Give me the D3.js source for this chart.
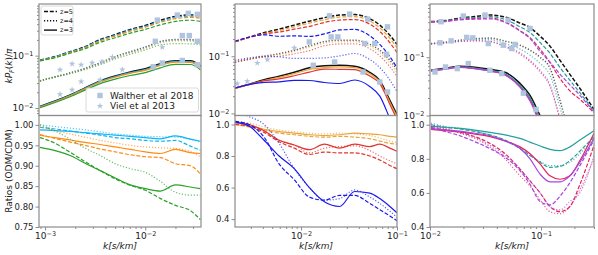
<!DOCTYPE html>
<html>
<head>
<meta charset="utf-8">
<script src="https://cdn.jsdelivr.net/npm/d3@7"></script>
<style>
  body { margin: 0; background: #fff; }
  svg { font-family: "DejaVu Sans", sans-serif; }
</style>
</head>
<body>
<svg id="chart" width="598" height="255"></svg>
<script>
// ---- panel 1 (k grid, CDM flux power, ODM/CDM ratios) ----
var p1_k = [0.00089, 0.00126, 0.00178, 0.00251, 0.00355, 0.00501, 0.00708, 0.0100, 0.0141, 0.0200, 0.0282, 0.0355];
var p1_cdm_z5 = [0.082, 0.096, 0.119, 0.149, 0.203, 0.253, 0.316, 0.378, 0.471, 0.562, 0.601, 0.587];
var p1_cdm_z4 = [0.033, 0.0395, 0.047, 0.0575, 0.073, 0.096, 0.119, 0.146, 0.186, 0.203, 0.203, 0.194];
var p1_cdm_z3 = [0.0107, 0.0136, 0.0178, 0.0243, 0.033, 0.041, 0.049, 0.0562, 0.070, 0.080, 0.080, 0.064];
var p1_blue_z5 = [0.994, 0.99, 0.985, 0.98, 0.975, 0.969, 0.966, 0.962, 0.96, 0.962, 0.948, 0.938];
var p1_blue_z4 = [1.0, 0.996, 0.992, 0.988, 0.983, 0.978, 0.975, 0.972, 0.971, 0.97, 0.965, 0.957];
var p1_blue_z3 = [0.988, 0.986, 0.984, 0.981, 0.978, 0.975, 0.972, 0.969, 0.966, 0.973, 0.965, 0.96];
var p1_orange_z5 = [0.976, 0.967, 0.958, 0.95, 0.941, 0.934, 0.927, 0.922, 0.92, 0.905, 0.9, 0.88];
var p1_orange_z4 = [0.995, 0.986, 0.978, 0.97, 0.962, 0.956, 0.95, 0.946, 0.944, 0.942, 0.935, 0.922];
var p1_orange_z3 = [0.974, 0.969, 0.963, 0.957, 0.952, 0.946, 0.94, 0.934, 0.93, 0.94, 0.932, 0.93];
var p1_green_z5 = [0.969, 0.955, 0.933, 0.91, 0.888, 0.868, 0.852, 0.84, 0.82, 0.803, 0.79, 0.768];
var p1_green_z4 = [1.0, 0.985, 0.965, 0.943, 0.925, 0.905, 0.893, 0.884, 0.862, 0.835, 0.828, 0.828];
var p1_green_z3 = [0.945, 0.937, 0.925, 0.906, 0.888, 0.87, 0.853, 0.844, 0.838, 0.853, 0.848, 0.844];
var p1_walther_k = [0.0132, 0.0209, 0.0269, 0.0331, 0.0126, 0.0234, 0.0275, 0.0331, 0.0120, 0.0148, 0.0234, 0.0331];
var p1_walther_p = [0.477, 0.596, 0.643, 0.614, 0.188, 0.242, 0.242, 0.188, 0.0614, 0.0724, 0.081, 0.067];
var p1_viel_k = [0.00141, 0.00186, 0.00229, 0.00295, 0.0037, 0.0047, 0.0148, 0.00141, 0.00186, 0.00229, 0.00355, 0.0059];
var p1_viel_p = [0.0538, 0.070, 0.067, 0.073, 0.077, 0.094, 0.145, 0.0183, 0.0222, 0.032, 0.0347, 0.054];

// ---- panel 2 ----
var p2_k = [0.00205, 0.00287, 0.00412, 0.00591, 0.0085, 0.0122, 0.0175, 0.0252, 0.0362, 0.052, 0.0662, 0.0843, 0.0998];
var p2_cdm_z5 = [0.180, 0.215, 0.258, 0.298, 0.350, 0.411, 0.473, 0.524, 0.535, 0.455, 0.350, 0.233, 0.162];
var p2_cdm_z4 = [0.0785, 0.0886, 0.1, 0.111, 0.127, 0.153, 0.180, 0.191, 0.191, 0.162, 0.127, 0.085, 0.059];
var p2_cdm_z3 = [0.0275, 0.0323, 0.0388, 0.0446, 0.0524, 0.0628, 0.0681, 0.0695, 0.0668, 0.0524, 0.0379, 0.0169, 0.0096];
var p2_gold_z5 = [1.0, 0.985, 0.965, 0.945, 0.935, 0.925, 0.92, 0.925, 0.92, 0.91, 0.895, 0.88, 0.875];
var p2_gold_z4 = [1.02, 1.01, 0.985, 0.965, 0.955, 0.945, 0.94, 0.945, 0.94, 0.93, 0.915, 0.895, 0.885];
var p2_gold_z3 = [1.0, 0.99, 0.97, 0.955, 0.945, 0.935, 0.93, 0.935, 0.945, 0.94, 0.935, 0.925, 0.92];
var p2_red_z5 = [1.0, 0.99, 0.95, 0.89, 0.85, 0.81, 0.825, 0.82, 0.82, 0.8, 0.775, 0.74, 0.72];
var p2_red_z4 = [1.02, 1.0, 0.96, 0.9, 0.87, 0.82, 0.85, 0.86, 0.865, 0.835, 0.8, 0.77, 0.75];
var p2_red_z3 = [1.01, 1.0, 0.96, 0.9, 0.87, 0.84, 0.875, 0.85, 0.875, 0.86, 0.875, 0.85, 0.83];
var p2_blue_z5 = [1.02, 1.0, 0.92, 0.75, 0.65, 0.54, 0.52, 0.55, 0.55, 0.5, 0.46, 0.42, 0.39];
var p2_blue_z4 = [1.08, 1.05, 1.0, 0.88, 0.72, 0.6, 0.52, 0.53, 0.585, 0.54, 0.5, 0.45, 0.41];
var p2_blue_z3 = [1.015, 0.99, 0.9, 0.8, 0.72, 0.6, 0.51, 0.48, 0.575, 0.565, 0.53, 0.48, 0.44];
var p2_walther_k = [0.0198, 0.0321, 0.0496, 0.0796, 0.0122, 0.0206, 0.0242, 0.0461, 0.0587, 0.0778, 0.0134, 0.0224, 0.0443, 0.0662, 0.0796];
var p2_walther_p = [0.509, 0.546, 0.446, 0.327, 0.178, 0.218, 0.218, 0.167, 0.167, 0.108, 0.0695, 0.0794, 0.053, 0.0354, 0.0237];
var p2_viel_k = [0.00216, 0.00275, 0.0035, 0.00446, 0.0085];
var p2_viel_p = [0.0332, 0.0364, 0.0763, 0.0875, 0.14];

// ---- panel 3 ----
var p3_k = [0.0102, 0.0137, 0.0186, 0.0254, 0.0347, 0.0474, 0.0647, 0.0796, 0.098, 0.1205, 0.148, 0.182, 0.224, 0.30];
var p3_cdm_z5 = [0.409, 0.426, 0.47, 0.499, 0.53, 0.49, 0.386, 0.323, 0.230, 0.155, 0.0888, 0.0509, 0.0292, 0.0127];
var p3_cdm_z4 = [0.171, 0.181, 0.196, 0.208, 0.213, 0.189, 0.161, 0.132, 0.1, 0.0646, 0.0182, 0.0045, 0.00137, 0.00023];
var p3_cdm_z3 = [0.0597, 0.0646, 0.070, 0.0672, 0.062, 0.0551, 0.0356, 0.0221, 0.010, 0.0045, 0.00167, 0.0005, 0.00016, 0.00003];
var p3_teal_z5 = [1.0, 0.985, 0.975, 0.96, 0.94, 0.91, 0.86, 0.82, 0.78, 0.75, 0.755, 0.79, 0.845, 0.93];
var p3_teal_z4 = [1.01, 0.99, 0.98, 0.962, 0.94, 0.905, 0.86, 0.82, 0.785, 0.76, 0.76, 0.78, 0.83, 0.92];
var p3_teal_z3 = [0.99, 0.985, 0.978, 0.968, 0.955, 0.94, 0.92, 0.898, 0.875, 0.855, 0.848, 0.87, 0.91, 0.965];
var p3_crimson_z5 = [0.98, 0.97, 0.955, 0.93, 0.89, 0.83, 0.74, 0.67, 0.6, 0.52, 0.49, 0.52, 0.65, 0.88];
var p3_crimson_z4 = [0.99, 0.975, 0.95, 0.92, 0.87, 0.8, 0.7, 0.64, 0.56, 0.49, 0.478, 0.52, 0.62, 0.8];
var p3_crimson_z3 = [0.973, 0.965, 0.958, 0.945, 0.93, 0.905, 0.87, 0.83, 0.77, 0.7, 0.68, 0.7, 0.79, 0.95];
var p3_purple_z5 = [0.985, 0.96, 0.935, 0.9, 0.86, 0.81, 0.73, 0.65, 0.55, 0.53, 0.58, 0.66, 0.76, 0.91];
var p3_purple_z4 = [1.0, 0.98, 0.955, 0.925, 0.88, 0.82, 0.74, 0.67, 0.6, 0.52, 0.5, 0.55, 0.6, 0.82];
var p3_purple_z3 = [0.975, 0.97, 0.962, 0.95, 0.935, 0.905, 0.86, 0.8, 0.71, 0.665, 0.665, 0.7, 0.78, 0.92];
var p3_walther_k = [0.01256, 0.01995, 0.0313, 0.0507, 0.0796, 0.0123, 0.0155, 0.0214, 0.0243, 0.0335, 0.0457, 0.0583, 0.0544, 0.0111, 0.0138, 0.0176, 0.0221, 0.0347, 0.0443, 0.0693, 0.0902];
var p3_walther_p = [0.407, 0.509, 0.53, 0.434, 0.312, 0.177, 0.191, 0.219, 0.215, 0.172, 0.161, 0.166, 0.141, 0.0558, 0.068, 0.0638, 0.0779, 0.0597, 0.0524, 0.0242, 0.0127];

var zLabels = ['z=5', 'z=4', 'z=3'];

// layout
var TOP = [4, 115.5], BOT = [115.5, 227];
var FRAME = '#8c8c8c', OBS = '#b0c4de';
// z=5 dashed, z=4 dotted, z=3 solid
var zStyle = [
  {dash: '4,1.8', op: 1},
  {dash: '1.2,1.8', op: 0.7},
  {dash: null, op: 1}
];

var panels = [
  {x: [39, 201], kdom: [8.7e-4, 0.036], pdom: [0.0072, 0.97], rdom: [0.75, 1.023],
   rticks: [0.75, 0.80, 0.85, 0.90, 0.95, 1.00], rfmt: d3.format('.2f'),
   k: p1_k, cdm: [p1_cdm_z5, p1_cdm_z4, p1_cdm_z3],
   models: [
     {c: '#0cb4f4', r: [p1_blue_z5, p1_blue_z4, p1_blue_z3]},
     {c: '#ff8a12', r: [p1_orange_z5, p1_orange_z4, p1_orange_z3]},
     {c: '#2ca02c', r: [p1_green_z5, p1_green_z4, p1_green_z3]}
   ],
   wk: p1_walther_k, wp: p1_walther_p, vk: p1_viel_k, vp: p1_viel_p},
  {x: [235, 397], kdom: [0.00205, 0.1], pdom: [0.0092, 0.82], rdom: [0.35, 1.057],
   rticks: [0.4, 0.6, 0.8, 1.0], rfmt: d3.format('.1f'),
   k: p2_k, cdm: [p2_cdm_z5, p2_cdm_z4, p2_cdm_z3],
   models: [
     {c: '#e9a53c', r: [p2_gold_z5, p2_gold_z4, p2_gold_z3]},
     {c: '#e2352f', r: [p2_red_z5, p2_red_z4, p2_red_z3]},
     {c: '#1a1af0', r: [p2_blue_z5, p2_blue_z4, p2_blue_z3]}
   ],
   wk: p2_walther_k, wp: p2_walther_p, vk: p2_viel_k, vp: p2_viel_p},
  {x: [430, 594], kdom: [0.01, 0.3], pdom: [0.01, 0.82], rdom: [0.4, 1.054],
   rticks: [0.4, 0.6, 0.8, 1.0], rfmt: d3.format('.1f'),
   k: p3_k, cdm: [p3_cdm_z5, p3_cdm_z4, p3_cdm_z3],
   models: [
     {c: '#23a09a', r: [p3_teal_z5, p3_teal_z4, p3_teal_z3]},
     {c: '#e3245b', r: [p3_crimson_z5, p3_crimson_z4, p3_crimson_z3]},
     {c: '#a646e0', r: [p3_purple_z5, p3_purple_z4, p3_purple_z3]}
   ],
   wk: p3_walther_k, wp: p3_walther_p, vk: [], vp: []}
];

var svg = d3.select('#chart');
var defs = svg.append('defs');

function powLabel(sel) {
  sel.each(function(v){
    var t = d3.select(this);
    var e = Math.round(Math.log10(v));
    t.text(null).attr('font-size', 9);
    t.append('tspan').text('10');
    t.append('tspan').attr('dy', '-0.5em').attr('font-size', '0.72em').text('\u2212' + Math.abs(e));
  });
}

function logTicks(scale) {
  var all = scale.ticks();
  var major = all.filter(function(v){ return Math.abs(Math.log10(v) - Math.round(Math.log10(v))) < 1e-6; });
  var minor = all.filter(function(v){ return major.indexOf(v) < 0; });
  return {major: major, minor: minor};
}

function styleAxis(g) {
  g.select('.domain').remove();
  g.selectAll('line').attr('stroke', FRAME).attr('stroke-width', 1);
  g.selectAll('text').attr('fill', '#222').attr('font-size', 8.5).attr('font-family', '"DejaVu Sans", sans-serif');
}

panels.forEach(function(p, pi){
  var x = d3.scaleLog().domain(p.kdom).range(p.x);
  var yTop = d3.scaleLog().domain(p.pdom).range([TOP[1], TOP[0]]);
  var yBot = d3.scaleLinear().domain(p.rdom).range([BOT[1], BOT[0]]);

  ['top', 'bot'].forEach(function(n){
    var r = n === 'top' ? TOP : BOT;
    defs.append('clipPath').attr('id', 'clip' + pi + n)
      .append('rect').attr('x', p.x[0]).attr('y', r[0])
      .attr('width', p.x[1] - p.x[0]).attr('height', r[1] - r[0]);
  });

  var gTop = svg.append('g').attr('clip-path', 'url(#clip' + pi + 'top)');
  var gBot = svg.append('g').attr('clip-path', 'url(#clip' + pi + 'bot)');

  var lineTop = d3.line().x(function(d){ return x(d[0]); }).y(function(d){ return yTop(d[1]); }).curve(d3.curveMonotoneX);
  var lineBot = d3.line().x(function(d){ return x(d[0]); }).y(function(d){ return yBot(d[1]); }).curve(d3.curveMonotoneX);

  function draw(g, gen, pts, color, zi, w) {
    g.append('path')
      .attr('d', gen(pts))
      .attr('fill', 'none')
      .attr('stroke', color)
      .attr('stroke-width', w)
      .attr('stroke-opacity', zStyle[zi].op)
      .attr('stroke-dasharray', zStyle[zi].dash);
  }

  // top: CDM in black, models = CDM * ratio
  p.cdm.forEach(function(c, zi){
    draw(gTop, lineTop, p.k.map(function(k, i){ return [k, c[i]]; }), '#111', zi, 1.5);
  });
  p.models.forEach(function(m){
    m.r.forEach(function(rr, zi){
      var c = p.cdm[zi];
      draw(gTop, lineTop, p.k.map(function(k, i){ return [k, c[i] * rr[i]]; }), m.c, zi, 1.2);
    });
  });

  // bottom: ratios
  p.models.forEach(function(m){
    m.r.forEach(function(rr, zi){
      draw(gBot, lineBot, p.k.map(function(k, i){ return [k, rr[i]]; }), m.c, zi, 1.2);
    });
  });

  // observations
  gTop.selectAll('rect.walther').data(d3.zip(p.wk, p.wp)).enter().append('rect')
    .attr('class', 'walther')
    .attr('x', function(d){ return x(d[0]) - 2.7; })
    .attr('y', function(d){ return yTop(d[1]) - 2.7; })
    .attr('width', 5.4).attr('height', 5.4)
    .attr('fill', OBS);
  gTop.selectAll('path.viel').data(d3.zip(p.vk, p.vp)).enter().append('path')
    .attr('class', 'viel')
    .attr('transform', function(d){ return 'translate(' + x(d[0]) + ',' + yTop(d[1]) + ')'; })
    .attr('d', d3.symbol().type(d3.symbolStar).size(14))
    .attr('fill', OBS);

  // frames
  [TOP, BOT].forEach(function(r){
    svg.append('rect').attr('x', p.x[0]).attr('y', r[0])
      .attr('width', p.x[1] - p.x[0]).attr('height', r[1] - r[0])
      .attr('fill', 'none').attr('stroke', FRAME).attr('stroke-width', 1.2);
  });

  // x axis (bottom panel)
  var xt = logTicks(x);
  var gx = svg.append('g').attr('transform', 'translate(0,' + BOT[1] + ')')
    .call(d3.axisBottom(x).tickValues(xt.major).tickSize(3.5).tickPadding(2));
  styleAxis(gx);
  gx.selectAll('text').call(powLabel);
  var gxm = svg.append('g').attr('transform', 'translate(0,' + BOT[1] + ')')
    .call(d3.axisBottom(x).tickValues(xt.minor).tickSize(2).tickFormat(''));
  styleAxis(gxm);

  // y axis top (log)
  var yt = logTicks(yTop);
  var gy = svg.append('g').attr('transform', 'translate(' + p.x[0] + ',0)')
    .call(d3.axisLeft(yTop).tickValues(yt.major).tickSize(3.5).tickPadding(2));
  styleAxis(gy);
  gy.selectAll('text').call(powLabel);
  var gym = svg.append('g').attr('transform', 'translate(' + p.x[0] + ',0)')
    .call(d3.axisLeft(yTop).tickValues(yt.minor).tickSize(2).tickFormat(''));
  styleAxis(gym);

  // y axis bottom (linear)
  var gr = svg.append('g').attr('transform', 'translate(' + p.x[0] + ',0)')
    .call(d3.axisLeft(yBot).tickValues(p.rticks).tickFormat(p.rfmt).tickSize(3.5).tickPadding(2));
  styleAxis(gr);

  // x label
  svg.append('text')
    .attr('x', (p.x[0] + p.x[1]) / 2).attr('y', 249)
    .attr('text-anchor', 'middle').attr('font-size', 9).attr('font-style', 'italic')
    .attr('fill', '#222')
    .text('k[s/km]');
});

// y labels
var yl1 = svg.append('text').attr('transform', 'translate(12,66) rotate(-90)')
  .attr('text-anchor', 'middle').attr('font-size', 9).attr('fill', '#222');
yl1.append('tspan').attr('font-style', 'italic').text('kP');
yl1.append('tspan').attr('font-style', 'italic').attr('font-size', 6.5).attr('dy', 2).text('F');
yl1.append('tspan').attr('dy', -2).text('(');
yl1.append('tspan').attr('font-style', 'italic').text('k');
yl1.append('tspan').text(')/');
yl1.append('tspan').attr('font-style', 'italic').text('\u03c0');

svg.append('text').attr('transform', 'translate(12,171) rotate(-90)')
  .attr('text-anchor', 'middle').attr('font-size', 9).attr('fill', '#222')
  .text('Ratios (ODM/CDM)');

// legend: redshift line styles
var lg1 = svg.append('g');
lg1.append('rect').attr('x', 41).attr('y', 6).attr('width', 32).attr('height', 29).attr('rx', 2)
  .attr('fill', '#fff').attr('fill-opacity', 0.85).attr('stroke', '#d0d0d0').attr('stroke-width', 0.8);
zLabels.forEach(function(t, i){
  var yy = 11.5 + i * 9.3;
  lg1.append('line').attr('x1', 44).attr('x2', 57).attr('y1', yy).attr('y2', yy)
    .attr('stroke', '#111').attr('stroke-width', 1.4).attr('stroke-dasharray', zStyle[i].dash);
  lg1.append('text').attr('x', 60).attr('y', yy + 2.3).attr('font-size', 6.5).attr('fill', '#222').text(t);
});

// legend: observations
var lg2 = svg.append('g');
lg2.append('rect').attr('x', 86).attr('y', 88).attr('width', 112.5).attr('height', 24).attr('rx', 2)
  .attr('fill', '#fff').attr('fill-opacity', 0.85).attr('stroke', '#d0d0d0').attr('stroke-width', 0.8);
lg2.append('rect').attr('x', 97.3).attr('y', 92.8).attr('width', 5.4).attr('height', 5.4).attr('fill', OBS);
lg2.append('path').attr('transform', 'translate(100,106)')
  .attr('d', d3.symbol().type(d3.symbolStar).size(14)).attr('fill', OBS);
lg2.append('text').attr('x', 110).attr('y', 98.6).attr('font-size', 9).attr('fill', '#222').text('Walther et al 2018');
lg2.append('text').attr('x', 110).attr('y', 109.2).attr('font-size', 9).attr('fill', '#222').text('Viel et al 2013');
</script>
</body>
</html>
